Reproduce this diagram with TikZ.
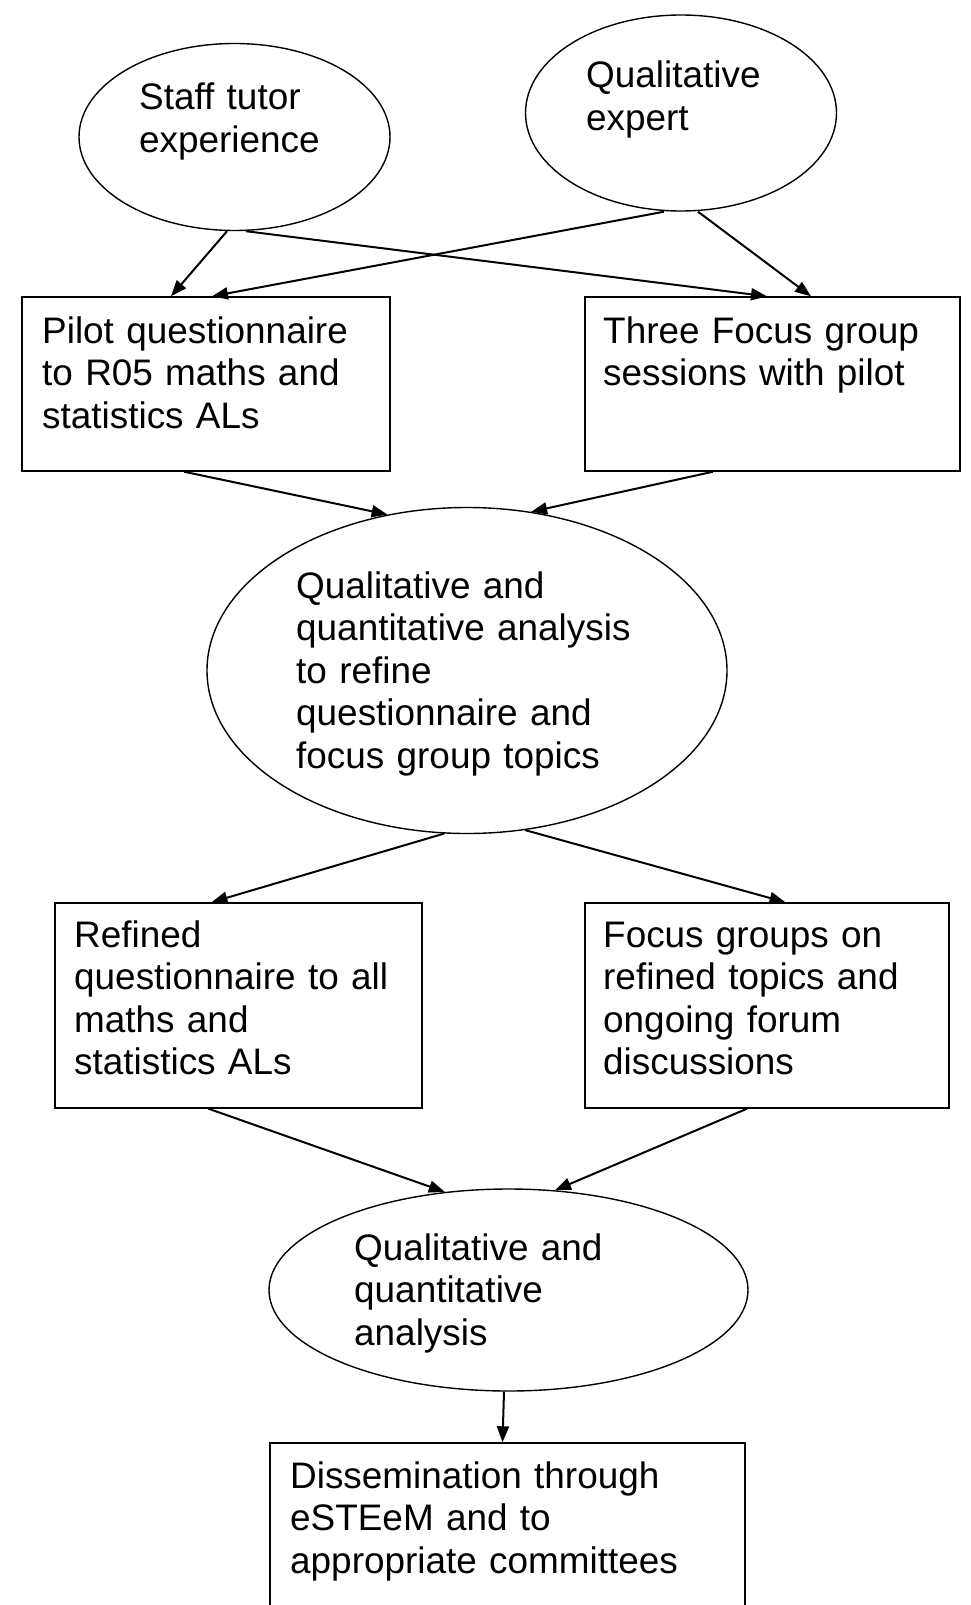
\documentclass[tikz,border=0pt]{standalone}
\usepackage{fontspec}
\setmainfont{Liberation Sans}
\usetikzlibrary{shapes.geometric,arrows.meta}
\begin{document}
\begin{tikzpicture}[x=1pt,y=-1pt,
  shapeline/.style={draw=black,line width=1.4pt},
  oval/.style={shapeline,ellipse,inner sep=0pt},
  box/.style={shapeline,rectangle,inner sep=0pt},
  txt/.style={anchor=base west,text width=420pt,align=left,inner sep=0pt,font=\fontsize{36.9}{42.5}\selectfont},
  conn/.style={line width=2pt,-{Triangle[length=16pt,width=12pt]}}
]
\useasboundingbox (0,0) rectangle (971,1605);
\clip (0,0) rectangle (971,1605);
\node[oval,minimum width=311pt,minimum height=187pt] (e1) at (234.5,137) {};
\node[txt] (t1) at (139,110) {Staff tutor\\experience};
\node[oval,minimum width=311pt,minimum height=196pt] (e2) at (681,113) {};
\node[txt] (t2) at (586,88) {Qualitative\\expert};
\node[box,minimum width=368pt,minimum height=174pt] (b1) at (206,384) {};
\node[txt] (t3) at (42,343) {Pilot questionnaire\\to R05 maths and\\statistics ALs};
\node[box,minimum width=375pt,minimum height=174pt] (b2) at (772.5,384) {};
\node[txt] (t4) at (603,343) {Three Focus group\\sessions with pilot};
\node[oval,minimum width=520pt,minimum height=326pt] (e3) at (467,670.5) {};
\node[txt] (t5) at (296,598) {Qualitative and\\quantitative analysis\\to refine\\questionnaire and\\focus group topics};
\node[box,minimum width=367pt,minimum height=205pt] (b3) at (238.5,1005.5) {};
\node[txt] (t6) at (74,947) {Refined\\questionnaire to all\\maths and\\statistics ALs};
\node[box,minimum width=364pt,minimum height=205pt] (b4) at (767,1005.5) {};
\node[txt] (t7) at (603,947) {Focus groups on\\refined topics and\\ongoing forum\\discussions};
\node[oval,minimum width=479pt,minimum height=202pt] (e4) at (508.5,1290) {};
\node[txt] (t8) at (354,1260) {Qualitative and\\quantitative\\analysis};
\node[box,minimum width=475pt,minimum height=240pt] (b5) at (507.5,1563) {};
\node[txt] (t9) at (290,1488) {Dissemination through\\eSTEeM and to\\appropriate committees};
\draw[conn] ([xshift=-7.5pt]e1.south) -- ([xshift=-35pt]b1.north);
\draw[conn] ([xshift=11.5pt]e1.south) -- ([xshift=-5.5pt]b2.north);
\draw[conn] ([xshift=-17pt]e2.south) -- ([xshift=6pt]b1.north);
\draw[conn] ([xshift=17pt]e2.south) -- ([xshift=38.5pt]b2.north);
\draw[conn] ([xshift=-22pt]b1.south) -- (e3.117);
\draw[conn] ([xshift=-59.5pt]b2.south) -- (e3.68);
\draw[conn] (e3.262) -- ([xshift=-27pt]b3.north);
\draw[conn] (e3.290) -- ([xshift=18.5pt]b4.north);
\draw[conn] ([xshift=-30pt]b3.south) -- (e4.123);
\draw[conn] ([xshift=-20pt]b4.south) -- (e4.65);
\draw[conn] ([xshift=-4.5pt]e4.south) -- ([xshift=-5pt]b5.north);
\end{tikzpicture}
\end{document}
